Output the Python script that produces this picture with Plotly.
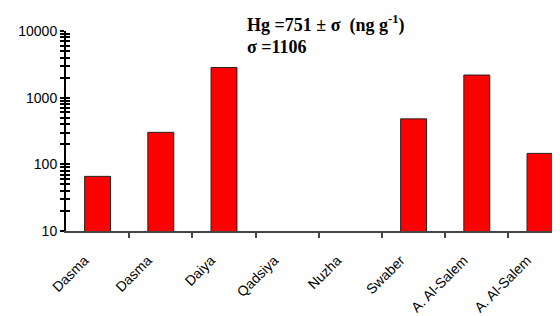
import plotly.graph_objects as go

# ---- data ----
categories = ["Dasma", "Dasma", "Daiya", "Qadsiya", "Nuzha", "Swaber", "A. Al-Salem", "A. Al-Salem"]
hg_values = [66, 302, 2830, 0, 0, 481, 2183, 146]   # ng g-1 (0 = not drawn on log axis)
y_major = [10, 100, 1000, 10000]
y_major_labels = ["10", "100", "1000", "10000"]
stat_mean = 751
stat_sigma = 1106

# ---- derived ----
xpos = list(range(len(categories)))
yvals = [v if v > 0 else None for v in hg_values]
y_minor = [p * k for p in y_major[:-1] for k in range(2, 10)]
boundaries = [i + 0.5 for i in xpos]

W, H = 560, 316
L, R, T, B = 58, 8, 23, 93
cat_px = 63.2
plot_w = W - L - R
xrange = [-0.5, -0.5 + plot_w / cat_px]

fig = go.Figure()
fig.add_trace(go.Bar(
    x=xpos, y=yvals,
    marker=dict(color="#ff0000", line=dict(color="#222222", width=1)),
    showlegend=False,
))
# empty trace so the overlaid helper axes (boundary ticks / inner ticks) are drawn
fig.add_trace(go.Scatter(x=[None], y=[None], xaxis="x2", yaxis="y2",
                         showlegend=False, hoverinfo="skip"))

axfont = dict(family="Liberation Sans, Arial, sans-serif", size=14, color="black")

fig.update_layout(
    width=W, height=H,
    margin=dict(l=L, r=R, t=T, b=B),
    paper_bgcolor="white", plot_bgcolor="white",
    bargap=0.59,
    xaxis=dict(
        range=xrange, tickvals=xpos, ticktext=categories, tickangle=-45,
        ticks="", showgrid=False, zeroline=False, automargin=False,
        showline=True, linecolor="#444444", linewidth=1.5,
        tickfont=axfont, ticklabelstandoff=14, ticklabelshift=-13,
    ),
    xaxis2=dict(
        range=xrange, overlaying="x", anchor="y", side="bottom", automargin=False,
        tickvals=boundaries, ticks="outside", ticklen=6, tickwidth=1.5, tickcolor="#444444",
        showticklabels=False, showgrid=False, zeroline=False, showline=False,
    ),
    yaxis=dict(
        type="log", range=[1, 4], automargin=False,
        tickvals=y_major, ticktext=y_major_labels,
        ticks="outside", ticklen=4, tickwidth=2, tickcolor="black",
        minor=dict(tickvals=y_minor, ticks="outside", ticklen=4, tickwidth=2, tickcolor="black"),
        showline=True, linecolor="black", linewidth=2,
        showgrid=False, zeroline=False, tickfont=axfont,
    ),
    yaxis2=dict(
        type="log", range=[1, 4], overlaying="y", anchor="x", side="left", automargin=False,
        tickvals=y_major, ticks="inside", ticklen=4, tickwidth=2, tickcolor="black",
        minor=dict(tickvals=y_minor, ticks="inside", ticklen=4, tickwidth=2, tickcolor="black"),
        showticklabels=False, showgrid=False, zeroline=False, showline=False,
    ),
)

tfont = dict(family="Liberation Serif, Times New Roman, serif", size=18, color="black")
tx = (237 - L) / plot_w
fig.add_annotation(
    xref="paper", yref="paper", x=tx, y=1.035,
    xanchor="left", yanchor="middle", showarrow=False, align="left",
    text=f"<b>Hg ={stat_mean} ± σ  (ng g<sup>-1</sup>)</b>", font=tfont,
)
fig.add_annotation(
    xref="paper", yref="paper", x=tx, y=0.918,
    xanchor="left", yanchor="middle", showarrow=False, align="left",
    text=f"<b>σ ={stat_sigma}</b>", font=tfont,
)

fig.write_html("out.html")
